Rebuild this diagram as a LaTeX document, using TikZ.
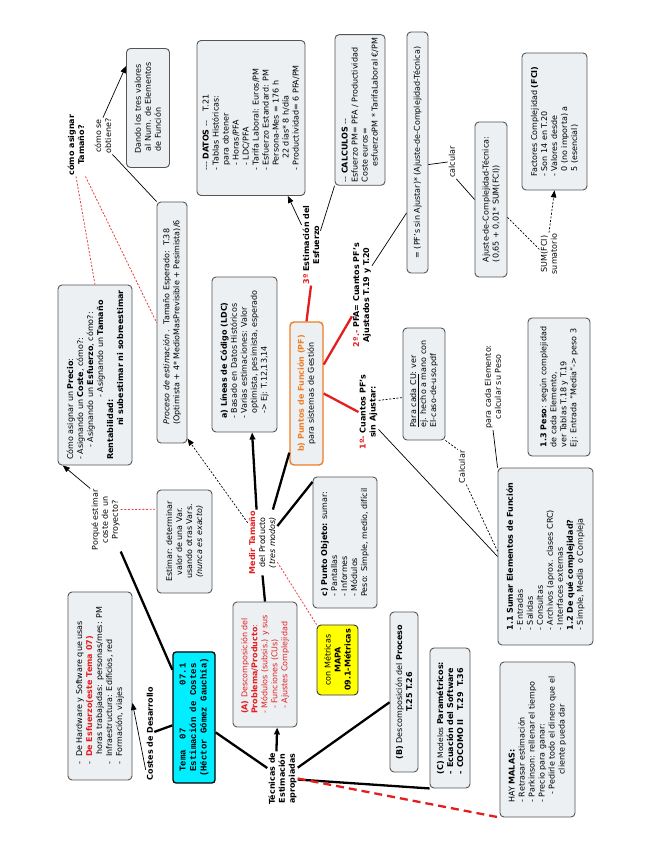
\documentclass[tikz,border=0pt]{standalone}
\usepackage{fontspec}
\setmainfont{DejaVu Sans}
\newfontfamily\monofnt{Liberation Mono}
\usetikzlibrary{arrows.meta,backgrounds,calc}
\definecolor{boxfill}{RGB}{236,240,243}
\definecolor{boxline}{RGB}{85,85,85}
\definecolor{redtx}{RGB}{228,30,30}
\definecolor{orangetx}{RGB}{240,125,35}
\definecolor{cyanfill}{RGB}{0,238,255}
\definecolor{yellowfill}{RGB}{255,255,0}
\tikzset{
  cbox/.style={draw=boxline, fill=boxfill, rounded corners=4pt, line width=0.9pt,
    inner sep=3pt, align=left, font=\fontsize{8}{10}\selectfont},
  ctext/.style={inner sep=1pt, align=center, font=\fontsize{8}{10}\selectfont},
  btext/.style={inner sep=1pt, align=center, font=\fontsize{8}{10}\selectfont\bfseries},
  temabox/.style={draw=black, line width=1.3pt, fill=cyanfill, rounded corners=3pt,
    align=center, inner sep=3pt, font=\monofnt\bfseries\fontsize{9}{10.5}\selectfont},
  lnthin/.style={line width=0.7pt, draw=black},
  lnthick/.style={line width=2.3pt, draw=black},
  redthick/.style={line width=2.3pt, draw=redtx},
  reddash/.style={line width=2.3pt, draw=redtx, dash pattern=on 8pt off 5pt},
  reddot/.style={line width=0.8pt, draw=redtx!85, dash pattern=on 2pt off 1.6pt},
  blkdash/.style={line width=0.7pt, draw=black, dash pattern=on 2pt off 1.6pt},
  tip/.style={-{Triangle[length=7pt,width=5.5pt]}},
}
\begin{document}
\begin{tikzpicture}[x=1pt,y=1pt]
\useasboundingbox (0,0) rectangle (655,848);
\fill[white] (0,0) rectangle (655,848);
\begin{scope}[rotate=90, transform shape]
% ---------- upper-right (landscape) ----------
\node[btext] (tamq) at (703,-76) {cómo asignar\\Tamaño?};
\node[ctext] (obt) at (712,-103) {cómo se\\obtiene?};
\node[cbox, minimum width=119pt, minimum height=43pt] (dando) at (740,-148)
  {Dando los tres valores\\\ al Num. de Elementos\\\ de Función};
\node[cbox, minimum width=155pt, minimum height=108pt] (datos) at (730,-251)
  {-{}-{}- \textbf{DATOS} -{}-\hspace{1.2em}T.21\\
   - Tablas Históricas:\\
   \ \ para obtener\\
   \ \ - Horas/PFA\\
   \ \ - LDC/PFA\\
   - Tarifa Laboral: Euros/PM\\
   - Esfuerzo Estandard: PM\\
   \ \ Persona-Mes = 176 h\\
   \hspace*{1.5em}22 días* 8 h/día\\
   - Productividad= 6 PFA/PM};
\node[cbox, minimum width=150pt, minimum height=50pt] (calc) at (738,-360)
  {-{}- \textbf{CALCULOS} -{}-\\
   Esfuerzo PM= PFA / Productividad\\
   Coste euros=\\
   \hspace*{2em}esfuerzoPM * TarifaLaboral €/PM};
\node[cbox, minimum width=241pt, minimum height=21pt, align=center] (igual) at (695.5,-417.5)
  {= (PF's sin Ajustar)* (Ajuste-de-Complejidad-Técnica)};
\node[ctext] (calcular) at (686,-452) {calcular};
\node[cbox, minimum width=155pt, minimum height=32pt] (ajuste) at (648.5,-491)
  {Ajuste-de-Complejidad-Técnica:\\(0,65 + 0,01* SUM(FCI))};
\node[ctext] (sum) at (594,-549) {SUM(FCI)\\sumatorio};
\node[cbox, minimum width=137pt, minimum height=65pt] (fci) at (726.5,-554.5)
  {Factores Complejidad \textbf{(FCI)}\\
   - Son 14 en T.20\\
   - Valores desde\\
   \ \ 0 (no importa) a\\
   \ \ 5 (esencial)};
% ---------- left part ----------
\node[cbox, minimum width=180pt, minimum height=74pt] (precio) at (473,-95)
  {Cómo asignar un \textbf{Precio}:\\
   - Asignando un \textbf{Coste}, cómo?:\\
   \hspace*{12pt}- Asignando un \textbf{Esfuerzo}, cómo?:\\
   \hspace*{62pt}- Asignando un \textbf{Tamaño}\\
   \textbf{Rentabilidad:}\\
   \hspace*{34pt}\textbf{ni subestimar ni sobreestimar}};
\node[ctext] (porque) at (328,-105.5) {Porqué estimar\\coste de un\\Proyecto?};
\node[cbox, minimum width=241pt, minimum height=30pt] (proceso) at (525.5,-172)
  {\textit{Proceso de estimación} .\ \ Tamaño Esperado:\ \ T.38\\
   (Optimista + 4* MedioMasPrevisible + Pesimista)/6};
\node[cbox, minimum width=103pt, minimum height=55pt, align=center] (estimar) at (306.5,-184.5)
  {Estimar: determinar\\valor de una Var.\\usando otras Vars.\\\textit{(nunca es exacto)}};
\node[temabox, minimum width=131pt, minimum height=42pt] (tema) at (130.5,-194)
  {Tema\ \ 07\ \ \ \ \ \ \ \ 07.1\\Estimación de Costes\\(Héctor Gómez Gauchía)};
\begin{scope}[on background layer]
  \fill[black, rounded corners=3pt] ($(tema.south west)+(2.5,-2.5)$) rectangle ($(tema.north east)+(2.5,-2.5)$);
\end{scope}
\node[btext] (costes) at (114.5,-150) {Costes de Desarrollo};
\node[cbox, minimum width=188pt, minimum height=64pt] (hw) at (162,-100)
  {-\ \ De Hardware y Software que usas\\
   -\ \ \textcolor{redtx}{\textbf{De Esfuerzo(este Tema 07)}}\\
   \hspace*{1.3em}horas trabajadas: personas/mes: PM\\
   -\ \ Infraestructura: Edificios, red\\
   -\ \ Formación, viajes};
% ---------- centre ----------
\node[cbox, minimum width=155pt, minimum height=65pt] (ldc) at (493.5,-244.5)
  {\textbf{a) Líneas de Código (LDC)}\\
   - Basado en Datos Históricos\\
   - Varias estimaciones: Valor\\
   \ \ optimista, pesimista, esperado\\
   \ \ -> Ej: T.12,13,14};
\node[cbox, draw=orangetx, line width=1.4pt, minimum width=143pt, minimum height=33pt, align=center] (pf) at (454.5,-306.5)
  {\textcolor{orangetx}{\textbf{b) Puntos de Función (PF)}}\\para sistemas de Gestión};
\node[ctext] (medir) at (305.5,-262.5)
  {\textcolor{redtx}{\textbf{Medir Tamaño}}\\del Producto\\\textit{(tres modos)}};
\node[btext] (tres) at (603,-311) {\textcolor{redtx}{3º} Estimación del\\Esfuerzo};
\node[btext] (pfa) at (553,-362) {\textcolor{redtx}{2º.-} PFA= Cuantos PF's\\Ajustados T.19 y T.20};
\node[btext] (uno) at (436,-368.5) {\textcolor{redtx}{1º-} Cuantos PF's\\sin Ajustar:};
\node[cbox, minimum width=112pt, minimum height=42pt] (cu) at (464,-424)
  {\underline{Para cada CU}: ver\\ej. hecho a mano con\\El-caso-de-uso.pdf};
\node[ctext] (calclab) at (381,-462) {Calcular};
\node[ctext] (elem) at (461,-493) {para cada Elemento:\\calcular su Peso};
\node[cbox, minimum width=138pt, minimum height=62pt] (peso) at (461,-559)
  {\textbf{1.3 Peso}: según complejidad\\
   de cada Elemento,\\
   ver Tablas T.18 y T.19\\
   Ej: Entrada "Media"-> peso 3};
\node[cbox, minimum width=177pt, minimum height=95pt] (sumar) at (291.5,-545.5)
  {\textbf{1.1 Sumar Elementos de Función}\\
   - Entradas\\
   - Salidas\\
   - Consultas\\
   - Archivos (aprox. clases CRC)\\
   - Interfaces externas\\
   \textbf{1.2 De qué complejidad?}\\
   - Simple, Media\ \ o Compleja};
\node[cbox, text=redtx, minimum width=125pt, minimum height=64pt] (A) at (183.5,-265)
  {\textbf{(A)} Descomposición del\\
   \textbf{Problema/Producto}:\\
   - Módulos (subsis.) y sus\\
   \ \ - Funciones (CUs)\\
   \ \ - Ajustes Complejidad};
\node[cbox, fill=yellowfill, draw=black!80, minimum width=70pt, minimum height=41pt, align=center] (metricas) at (188,-337.5)
  {con Métricas\\\textbf{MAPA}\\\textbf{09.1-Métricas}};
\node[cbox, minimum width=131pt, minimum height=64pt] (punto) at (305.5,-345)
  {\textbf{c) Punto Objeto:} sumar:\\
   - Pantallas\\
   - Informes\\
   - Módulos\\
   Peso: Simple, medio, difícil};
\node[btext] (tecnicas) at (69.5,-282.5) {Técnicas de\\Estimación\\apropiadas};
\node[cbox, minimum width=160pt, minimum height=28pt, align=center] (B) at (156,-404)
  {\textbf{(B)} Descomposición del \textbf{Proceso}\\\textbf{T.25 T.26}};
\node[cbox, minimum width=140pt, minimum height=40pt] (C) at (130,-450)
  {\textbf{(C)} {\fontsize{7.5}{10}\selectfont Modelos} \textbf{Paramétricos:}\\
   \textbf{- Ecuación del Software}\\
   \textbf{- COCOMO II\ \ \ T.29\ \ T.36}};
\node[cbox, minimum width=155pt, minimum height=75pt] (malas) at (108.5,-537.5)
  {HAY \textbf{MALAS:}\\
   - Retrasar estimación\\
   - Parkinson: rellenar el tiempo\\
   - Precio para ganar:\\
   \hspace*{1em}- Pedirle todo el dinero que el\\
   \hspace*{3.5em}cliente pueda dar};
% ---------- connectors ----------
\draw[lnthin, tip] (obt.east) -- ($(dando.north east)!0.15!(dando.north west)$);
\draw[lnthin] (obt.south west) -- (proceso.north east);
\draw[reddot] (tamq.west) -- (precio.east);
\draw[reddot] (tamq.south west) -- (proceso.north);
\draw[lnthin, tip] (porque.north east) -- ($(precio.north west)!0.07!(precio.south west)$);
\draw[lnthick] ($(tema.north west)!0.86!(tema.north east)$) -- (porque.south west);
\draw[reddot] ($(porque.south)!0.33!(porque.south east)$) -- ($(estimar.north)!0.62!(estimar.north east)$);
\draw[lnthick] (tema) -- (costes);
\draw[lnthin, tip] ($(costes.north west)!0.12!(costes.north east)$) -- ($(hw.south west)!0.41!(hw.south east)$);
\draw[lnthick] (tema) -- (tecnicas);
\draw[lnthick, tip] ($(tecnicas.north east)!0.3!(tecnicas.south east)$) -- ($(A.west)!0.375!(A.south west)$);
\draw[lnthick] (tecnicas) -- (B);
\draw[lnthick] (tecnicas) -- (C.north west);
\draw[reddash] (tecnicas.south) -- (malas.north west);
\draw[lnthick, tip] ($(medir.north east)!0.3!(medir.south east)$) -- ($(ldc.west)!0.23!(ldc.south west)$);
\draw[lnthick] ($(medir.north east)!0.85!(medir.south east)$) -- ($(pf.north west)!0.09!(pf.north east)$);
\draw[lnthick] ($(medir.south)!0.5!(medir.south east)$) -- ($(punto.north east)!0.04!(punto.north west)$);
\draw[blkdash, tip] ($(medir.north)!0.6!(medir.north east)$) -- ($(proceso.south west)!0.02!(proceso.south east)$);
\draw[lnthick] (medir.west) -- (A.east);
\draw[reddot] ($(medir.south west)!0.2!(medir.south east)$) -- (metricas.north east);
\draw[redthick] (pf.east) -- (tres.west);
\draw[redthick] ($(pf.south)!0.4!(pf.south east)$) -- ($(pfa.north west)!0.3!(pfa.north east)$);
\draw[redthick] (pf.south) -- (uno.north);
\draw[lnthin, tip] (tres) -- (datos);
\draw[lnthin] ($(tres.south)!0.35!(tres.south east)$) -- (calc.north west);
\draw[lnthin] ($(pfa.south)!0.55!(pfa.south east)$) -- ($(igual.north west)!0.25!(igual.north east)$);
\draw[lnthin] ($(igual.south)!0.1!(igual.south west)$) -- (calcular.north);
\draw[lnthin] (calcular.south west) -- (ajuste.north);
\draw[blkdash] ($(ajuste.south)!0.23!(ajuste.south west)$) -- ($(sum.north)!0.2!(sum.north east)$);
\draw[blkdash, tip] (sum.east) -- (fci.west);
\draw[blkdash] ($(uno.south)!0.3!(uno.south east)$) -- ($(cu.north west)!0.38!(cu.north east)$);
\draw[lnthin] ($(uno.south)!0.45!(uno.south west)$) -- (sumar.north);
\draw[blkdash] (cu.south west) -- (calclab.north east);
\draw[blkdash] (calclab.south west) -- ($(sumar.north)!0.06!(sumar.north east)$);
\draw[lnthin] (sumar.north east) -- (elem.west);
\end{scope}
\end{tikzpicture}
\end{document}
